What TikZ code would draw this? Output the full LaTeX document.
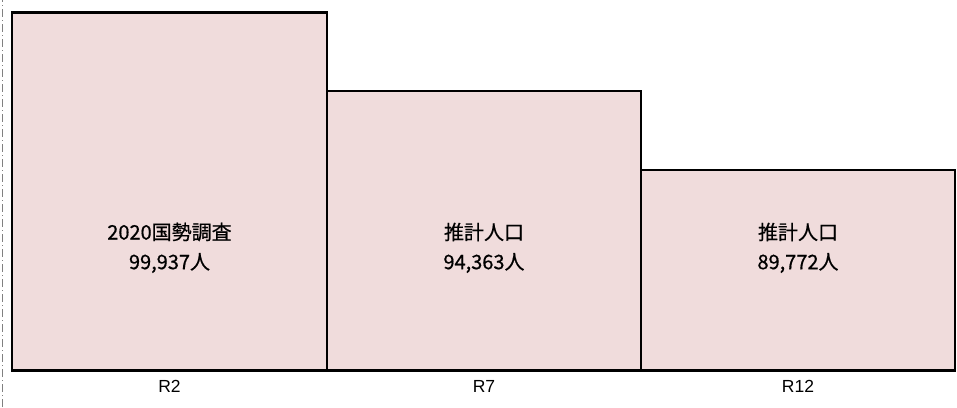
\documentclass[tikz,border=0pt]{standalone}
\usepackage{fontspec}
\setmainfont{Liberation Sans}
\newfontfamily\jpfont[FakeBold=0.6]{Noto Sans CJK JP}
\usepackage{tikz}
\definecolor{barpink}{RGB}{240,220,220}

\begin{document}
\begin{tikzpicture}[x=1pt,y=1pt,
  bar/.style={fill=barpink,draw=black,line width=2.6pt},
  barlabel/.style={font=\jpfont\fontsize{20}{22}\selectfont,align=center},
  axislabel/.style={font=\fontsize{17.5}{19}\selectfont}]
\useasboundingbox (0,0) rectangle (957,407);
\draw[gray,line width=0.8pt,dash pattern=on 8pt off 3pt on 1pt off 3pt] (2,0) -- (2,407);

% R2
\draw[bar] (12,36.5) rectangle (327,394.5);
\node[barlabel] (censuslabel) at (169.5,175) {2020国勢調査};
\node[barlabel] (censusvalue) at (169.5,144) {99,937人};
\node[axislabel] (rtwo) at (169.5,21) {R2};

% R7
\draw[bar] (327,36.5) rectangle (641,316);
\node[barlabel] (estlabela) at (484,175) {推計人口};
\node[barlabel] (estvaluea) at (484,144) {94,363人};
\node[axislabel] (rseven) at (484,21) {R7};

% R12
\draw[bar] (641,36.5) rectangle (955,237);
\node[barlabel] (estlabelb) at (798,175) {推計人口};
\node[barlabel] (estvalueb) at (798,144) {89,772人};
\node[axislabel] (rtwelve) at (798,21) {R12};
\end{tikzpicture}
\end{document}
